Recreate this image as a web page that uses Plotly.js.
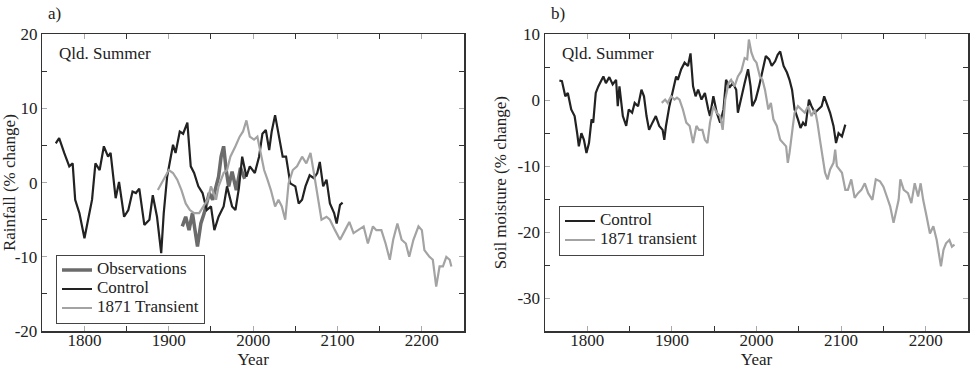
<!DOCTYPE html>
<html>
<head>
<meta charset="utf-8">
<script src="https://cdn.plot.ly/plotly-3.0.1.min.js"></script>
<style>html,body{margin:0;padding:0;background:#fff;}#chart{width:972px;height:372px;}</style>
</head>
<body>
<div id="chart"></div>
<script>
// ---- Panel a: Rainfall (% change) ----
const rainCtrlYears = [1766,1770,1776,1782,1786,1789,1794,1800,1805,1809,1813,1818,1823,1828,1831,1837,1841,1847,1852,1857,1861,1865,1871,1877,1881,1886,1891,1894,1898,1902,1905,1908,1913,1917,1922,1926,1930,1935,1940,1945,1950,1954,1959,1965,1969,1975,1979,1983,1987,1992,1996,2002,2007,2011,2015,2019,2022,2026,2031,2035,2039,2044,2050,2054,2058,2062,2067,2072,2076,2079,2083,2087,2091,2096,2099,2103,2106];
const rainCtrl = [5.3,6.0,4.0,2.2,2.6,-2.3,-4.1,-7.5,-4.6,-2.3,2.6,1.7,4.9,3.5,4.0,-2.1,0.1,-4.6,-3.7,-1.2,-1.4,-0.8,-5.7,-5.0,-1.7,-4.6,-9.5,-4.1,0.8,3.5,5.1,4.0,6.9,6.6,8.1,2.2,1.3,-0.5,-1.4,-3.7,-3.2,-6.4,-4.6,-3.2,-0.5,-3.2,-3.7,-0.8,3.5,0.8,2.2,1.3,3.5,6.6,7.1,4.4,6.9,9.1,6.2,3.5,3.5,-0.1,-0.5,-2.8,-2.3,-0.5,1.0,0.6,1.3,2.8,-0.5,0.4,-2.8,-4.1,-5.5,-3.0,-2.7];

const rainTransYears = [1887,1894,1900,1905,1910,1915,1920,1925,1930,1936,1941,1946,1950,1956,1959,1965,1969,1973,1979,1984,1988,1992,1996,2001,2005,2009,2013,2017,2021,2026,2030,2034,2038,2042,2047,2052,2058,2063,2068,2072,2076,2081,2087,2091,2097,2103,2109,2114,2119,2125,2131,2136,2142,2146,2152,2157,2162,2166,2171,2176,2181,2185,2190,2196,2200,2203,2209,2213,2217,2221,2225,2229,2233,2235];
const rainTrans = [-1.0,0.4,1.7,1.3,0.4,-1.0,-2.8,-3.7,-4.1,-4.1,-3.2,-2.3,-0.5,-2.3,-0.5,1.3,1.7,3.5,4.9,6.2,6.9,8.4,6.2,5.8,6.2,4.0,1.7,0.4,-1.0,-3.2,-2.3,-3.2,-5.0,-0.1,1.7,2.2,3.5,2.6,4.0,1.3,-1.4,-5.0,-4.6,-5.0,-6.4,-7.7,-6.4,-5.3,-6.8,-6.4,-5.9,-8.2,-5.9,-6.4,-6.4,-8.2,-10.4,-7.7,-5.5,-7.7,-8.2,-10.0,-7.7,-5.9,-6.4,-9.1,-10.0,-10.4,-14.0,-11.3,-11.3,-10.0,-10.4,-11.3];

const rainObsYears = [1916,1920,1924,1928,1934,1938,1942,1948,1952,1956,1959,1962,1965,1968,1971,1975,1980,1985,1990];
const rainObs = [-5.9,-4.6,-6.4,-4.1,-8.6,-5.5,-4.1,-1.4,-2.3,-0.5,0.8,3.5,4.9,1.7,-0.5,1.5,-1.0,2.0,0.5];

// ---- Panel b: Soil moisture (% change) ----
const soilCtrlYears = [1767,1770,1774,1777,1781,1785,1788,1790,1793,1796,1799,1802,1805,1807,1810,1813,1817,1819,1822,1826,1830,1834,1836,1838,1842,1846,1849,1853,1856,1860,1864,1867,1870,1873,1877,1881,1885,1889,1891,1893,1897,1901,1905,1907,1911,1915,1919,1922,1925,1928,1931,1935,1939,1943,1945,1949,1953,1957,1961,1964,1968,1972,1976,1978,1982,1986,1990,1993,1995,1999,2003,2007,2011,2015,2018,2022,2025,2028,2032,2036,2039,2042,2045,2049,2052,2055,2058,2062,2065,2069,2073,2077,2080,2084,2087,2091,2094,2097,2101,2105];
const soilCtrl = [3.0,2.9,0.6,1.1,-1.4,-2.4,-5.0,-7.0,-5.0,-6.0,-8.0,-6.5,-2.9,-3.4,1.1,2.1,3.1,3.6,2.6,3.5,2.4,3.1,-0.9,2.1,-2.4,-3.9,-1.4,-1.9,-0.4,-0.9,1.6,0.6,-2.4,-4.5,-3.4,-2.4,-3.9,-4.5,-6.0,-3.9,-0.9,1.6,3.6,3.1,4.7,5.7,5.2,7.1,2.1,0.6,1.6,0.1,1.1,-1.4,-2.4,0.6,-1.9,-3.4,-1.4,3.1,1.9,2.6,1.6,-1.9,0.6,2.6,4.7,2.1,-0.9,0.1,2.1,4.2,6.7,6.2,5.2,5.9,6.9,7.4,5.2,4.2,3.1,1.6,-1.4,-2.9,-4.2,-3.4,-3.9,0.1,-0.9,-1.9,-1.4,-0.9,0.6,-0.9,-1.9,-3.9,-6.5,-5.0,-5.5,-3.7];

const soilTransYears = [1888,1892,1895,1899,1903,1906,1909,1913,1917,1921,1925,1929,1932,1936,1939,1942,1945,1949,1953,1957,1960,1963,1967,1970,1974,1978,1982,1986,1989,1991,1994,1997,2000,2004,2007,2010,2014,2017,2020,2024,2028,2032,2035,2037,2039,2043,2045,2049,2053,2057,2061,2065,2069,2072,2075,2078,2081,2084,2087,2091,2093,2095,2101,2105,2108,2112,2116,2120,2124,2128,2132,2137,2141,2146,2150,2154,2158,2162,2165,2168,2170,2174,2179,2183,2187,2191,2194,2197,2201,2205,2209,2213,2218,2221,2224,2228,2231,2234];
const soilTrans = [-0.4,0.1,-0.4,0.6,0.1,0.4,0.1,-1.4,-3.4,-3.9,-6.5,-3.9,-4.5,-4.5,-6.0,-6.5,-3.4,-0.9,-1.9,-2.4,-4.5,0.1,2.6,3.1,2.1,3.6,4.4,6.4,6.2,9.2,7.2,6.2,5.7,3.6,3.1,1.6,-1.4,-0.4,-2.9,-3.9,-6.0,-6.5,-7.0,-9.5,-8.0,-3.9,-1.9,-0.9,-1.4,-1.9,-0.9,-2.4,-1.4,-3.4,-6.0,-8.5,-11.0,-12.0,-10.5,-9.5,-7.5,-10.0,-11.0,-13.6,-13.6,-12.0,-14.8,-14.1,-13.6,-12.6,-14.1,-15.1,-12.0,-12.3,-13.1,-14.6,-16.1,-18.6,-16.6,-15.1,-12.0,-13.6,-14.1,-15.6,-12.6,-14.6,-12.6,-15.1,-17.6,-20.2,-19.1,-21.2,-25.2,-22.7,-21.7,-21.2,-22.2,-21.9];

const xTickVals = [1800,1900,2000,2100,2200];
const xTickText = ['1800','1900','2000','2100','2200'];
const rainTickVals = [-20,-10,0,10,20];
const rainTickText = ['-20','-10','0','10','20'];
const soilTickVals = [-30,-20,-10,0,10];
const soilTickText = ['-30','-20','-10','0','10'];
const rainNames = ['Observations', 'Control', '1871 Transient'];
const soilNames = ['Control', '1871 transient'];

const FONT = 'Liberation Serif';
const FS = 17;
const cCtrl = '#222222', cTrans = '#a3a3a3', cObs = '#6b6b6b';
const big = s => '<span style="font-size:' + FS + 'px">' + s + '</span>';

const traces = [
  {x: rainObsYears, y: rainObs, name: big(rainNames[0]), mode: 'lines', line: {color: cObs, width: 3.5}, xaxis: 'x', yaxis: 'y', legend: 'legend'},
  {x: rainCtrlYears, y: rainCtrl, name: big(rainNames[1]), mode: 'lines', line: {color: cCtrl, width: 2.2}, xaxis: 'x', yaxis: 'y', legend: 'legend'},
  {x: rainTransYears, y: rainTrans, name: big(rainNames[2]), mode: 'lines', line: {color: cTrans, width: 2.2}, xaxis: 'x', yaxis: 'y', legend: 'legend'},
  {x: soilCtrlYears, y: soilCtrl, name: big(soilNames[0]), mode: 'lines', line: {color: cCtrl, width: 2.2}, xaxis: 'x2', yaxis: 'y2', legend: 'legend2'},
  {x: soilTransYears, y: soilTrans, name: big(soilNames[1]), mode: 'lines', line: {color: cTrans, width: 2.2}, xaxis: 'x2', yaxis: 'y2', legend: 'legend2'}
];

function xAxis(anchor, domain) {
  return {
    domain: domain, anchor: anchor, range: [1750, 2250],
    tickvals: xTickVals, ticktext: xTickText,
    ticks: 'inside', ticklen: 5, tickcolor: '#aaaaaa', tickwidth: 1,
    ticklabelstandoff: -7,
    minor: {tickvals: [1750,1850,1950,2050,2150,2250], ticks: 'inside', ticklen: 5, tickcolor: '#333', tickwidth: 1},
    showline: true, linecolor: '#333', linewidth: 1.5, mirror: 'ticks',
    showgrid: false, zeroline: false,
    tickfont: {family: FONT, size: FS, color: '#222'},
    title: {text: 'Year', font: {family: FONT, size: FS, color: '#222'}, standoff: 2}
  };
}
function yAxis(anchor, range, vals, text, minorVals, title, standoff) {
  return {
    domain: [0.1102, 0.9078], anchor: anchor, range: range,
    tickvals: vals, ticktext: text,
    ticks: 'inside', ticklen: 5, tickcolor: '#aaaaaa', tickwidth: 1,
    minor: {tickvals: minorVals, ticks: 'inside', ticklen: 5, tickcolor: '#333', tickwidth: 1},
    showline: true, linecolor: '#333', linewidth: 1.5, mirror: 'ticks',
    showgrid: false, zeroline: false,
    tickfont: {family: FONT, size: FS, color: '#222'},
    title: {text: title, font: {family: FONT, size: FS, color: '#222'}, standoff: standoff}
  };
}

const layout = {
  width: 972, height: 372,
  margin: {l: 0, r: 0, t: 0, b: 0},
  paper_bgcolor: '#fff', plot_bgcolor: '#fff',
  font: {family: FONT, size: FS, color: '#222'},
  showlegend: true,
  xaxis: xAxis('y', [0.0435, 0.4774]),
  yaxis: yAxis('x', [-20, 20], rainTickVals, rainTickText, [-15,-5,5,15], 'Rainfall (% change)', 14),
  xaxis2: xAxis('y2', [0.5607, 0.9959]),
  yaxis2: yAxis('x2', [-35, 10], soilTickVals, soilTickText, [-35,-25,-15,-5,5], 'Soil moisture (% change)', 6),
  legend: {x: 56/972, y: 1 - 289/372, xanchor: 'left', yanchor: 'middle', bgcolor: '#fff', bordercolor: '#444', borderwidth: 1,
           font: {family: FONT, size: 10, color: '#222'}, tracegroupgap: 0},
  legend2: {x: 559/972, y: 1 - 230.5/372, xanchor: 'left', yanchor: 'middle', bgcolor: '#fff', bordercolor: '#444', borderwidth: 1,
           font: {family: FONT, size: 10, color: '#222'}, tracegroupgap: 0},
  annotations: [
    {text: 'a)', xref: 'paper', yref: 'paper', x: 46/972, y: 1 - 14/372, xanchor: 'left', yanchor: 'middle', showarrow: false, font: {family: FONT, size: FS, color: '#222'}},
    {text: 'b)', xref: 'paper', yref: 'paper', x: 549/972, y: 1 - 14/372, xanchor: 'left', yanchor: 'middle', showarrow: false, font: {family: FONT, size: FS, color: '#222'}},
    {text: 'Qld. Summer', xref: 'paper', yref: 'paper', x: 57/972, y: 1 - 54/372, xanchor: 'left', yanchor: 'middle', showarrow: false, font: {family: FONT, size: FS, color: '#222'}},
    {text: 'Qld. Summer', xref: 'paper', yref: 'paper', x: 560/972, y: 1 - 54/372, xanchor: 'left', yanchor: 'middle', showarrow: false, font: {family: FONT, size: FS, color: '#222'}}
  ]
};

Plotly.newPlot('chart', traces, layout, {displayModeBar: false, staticPlot: true});
</script>
</body>
</html>
